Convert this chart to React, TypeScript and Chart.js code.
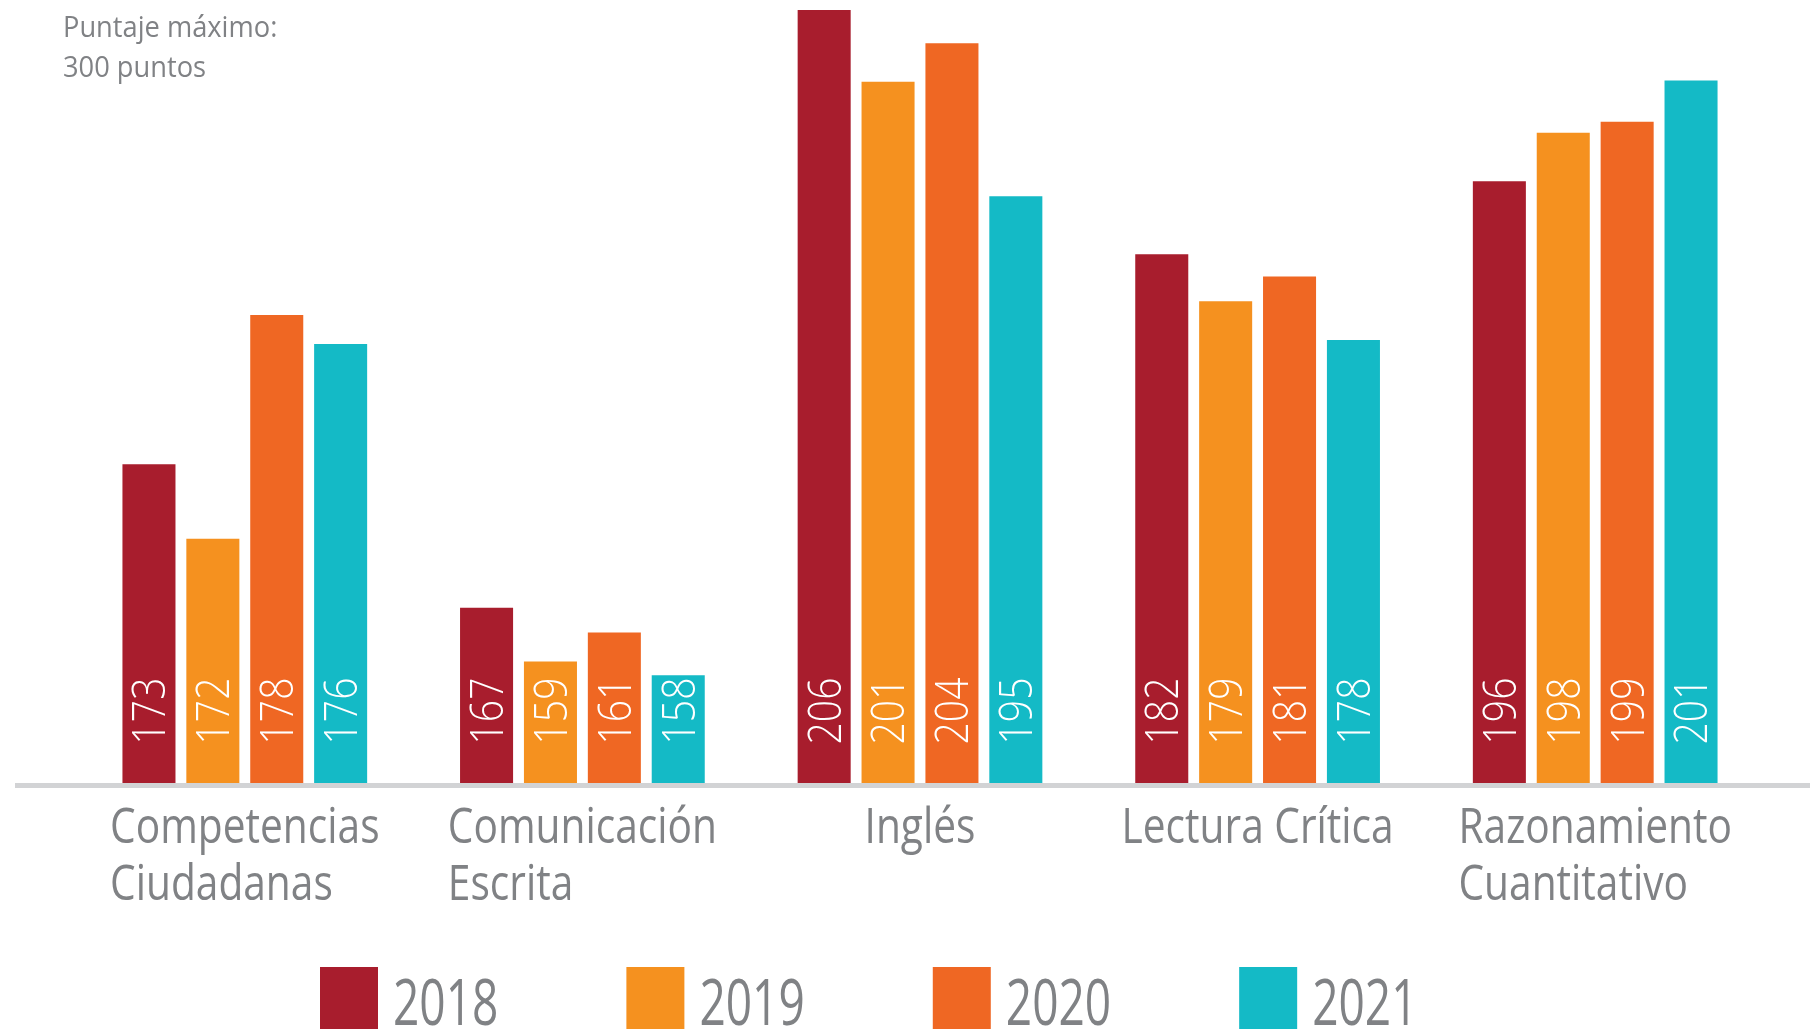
import React, { useEffect, useRef } from "react";
import { Chart, registerables } from "chart.js";

Chart.register(...registerables);

// ---- data ----
const categories: string[][] = [
  ["Competencias", "Ciudadanas"],
  ["Comunicación", "Escrita"],
  ["Inglés"],
  ["Lectura Crítica"],
  ["Razonamiento", "Cuantitativo"],
];
const years = ["2018", "2019", "2020", "2021"];

// printed scores (labels inside the bars)
const score2018 = [173, 167, 206, 182, 196];
const score2019 = [172, 159, 201, 179, 198];
const score2020 = [178, 161, 204, 181, 199];
const score2021 = [176, 158, 195, 178, 201];

// bar heights as drawn in the picture (the artwork is not drawn to scale)
const bar2018 = [173.1, 162.7, 206.0, 188.3, 193.6];
const bar2019 = [167.7, 158.8, 200.8, 184.9, 197.1];
const bar2020 = [183.9, 160.9, 203.6, 186.7, 197.9];
const bar2021 = [181.8, 157.8, 192.5, 182.1, 200.9];

const yearColors = ["#a81d2d", "#f5911f", "#ef6723", "#14bac6"];
const noteLines = ["Puntaje máximo:", "300 puntos"];
const yMin = 150;
const yMax = 206;

const FONT = '"Open Sans", "Noto Sans", sans-serif';
const GRAY = "#808285";

function drawScaledText(
  ctx: CanvasRenderingContext2D,
  text: string,
  x: number,
  y: number,
  size: number,
  sx: number,
  align: CanvasTextAlign,
  color: string,
  weight = 400
) {
  ctx.save();
  ctx.translate(x, y);
  ctx.scale(sx, 1);
  ctx.font = `${weight} ${size}px ${FONT}`;
  ctx.fillStyle = color;
  ctx.textAlign = align;
  ctx.textBaseline = "alphabetic";
  ctx.fillText(text, 0, 0);
  ctx.restore();
}

function measure(ctx: CanvasRenderingContext2D, text: string, size: number, sx: number, weight = 400) {
  ctx.save();
  ctx.font = `${weight} ${size}px ${FONT}`;
  const w = ctx.measureText(text).width * sx;
  ctx.restore();
  return w;
}

const scores = [score2018, score2019, score2020, score2021];

const decorPlugin = {
  id: "decor",
  afterDatasetsDraw(chart: any) {
    const ctx: CanvasRenderingContext2D = chart.ctx;
    const xs = chart.scales.x;
    const ys = chart.scales.y;
    const base = ys.getPixelForValue(yMin);

    // value labels inside bars (rotated)
    const valSize = 46;
    const valSx = 0.85;
    chart.data.datasets.forEach((ds: any, di: number) => {
      const meta = chart.getDatasetMeta(di);
      meta.data.forEach((bar: any, i: number) => {
        const txt = String(scores[di][i]);
        ctx.save();
        ctx.translate(bar.x, base - 72);
        ctx.rotate(-Math.PI / 2);
        ctx.scale(valSx, 1);
        ctx.font = `300 ${valSize}px ${FONT}`;
        ctx.fillStyle = "#ffffff";
        ctx.textAlign = "center";
        ctx.textBaseline = "alphabetic";
        ctx.fillText(txt, 0, valSize * 0.357);
        ctx.restore();
      });
    });

    // baseline
    ctx.save();
    ctx.fillStyle = "#d2d3d5";
    ctx.fillRect(15, base, chart.width - 15, 5);
    ctx.restore();

    // category labels (block centred under the group, lines left-aligned)
    const catSize = 49;
    const catSx = 0.83;
    (chart.data.labels as string[][]).forEach((lines, i) => {
      const cx = xs.getPixelForValue(i);
      const maxW = Math.max(...lines.map((l) => measure(ctx, l, catSize, catSx)));
      const left = cx - maxW / 2;
      lines.forEach((l, li) => {
        drawScaledText(ctx, l, left, base + 60 + li * 57, catSize, catSx, "left", GRAY);
      });
    });

    // legend
    const legSize = 64;
    const legSx = 0.72;
    let lx = 320;
    const boxTop = 967;
    chart.data.datasets.forEach((ds: any) => {
      ctx.save();
      ctx.fillStyle = ds.backgroundColor;
      ctx.fillRect(lx, boxTop, 58, chart.height - boxTop + 10);
      ctx.restore();
      const tx = lx + 58 + 15;
      drawScaledText(ctx, ds.label, tx, 1025, legSize, legSx, "left", GRAY);
      lx = tx + measure(ctx, ds.label, legSize, legSx) + 128;
    });

    // note
    noteLines.forEach((l, i) => {
      drawScaledText(ctx, l, 63, 37 + i * 40, 29, 0.94, "left", GRAY);
    });
  },
};

export default function App() {
  const ref = useRef<HTMLCanvasElement | null>(null);

  useEffect(() => {
    if (!ref.current) return;
    const bars = [bar2018, bar2019, bar2020, bar2021];
    const chart = new Chart(ref.current, {
      type: "bar",
      data: {
        labels: categories as any,
        datasets: years.map((y, i) => ({
          label: y,
          data: bars[i],
          backgroundColor: yearColors[i],
          borderWidth: 0,
          categoryPercentage: 0.757,
          barPercentage: 0.83,
        })),
      },
      options: {
        responsive: false,
        animation: false,
        devicePixelRatio: 1,
        layout: { padding: { left: 76, right: 46, top: 10, bottom: 246 } },
        scales: {
          x: { display: false },
          y: { display: false, min: yMin, max: yMax },
        },
        plugins: {
          legend: { display: false },
          tooltip: { enabled: false },
          title: { display: false },
        },
      },
      plugins: [decorPlugin],
    });
    return () => chart.destroy();
  }, []);

  return (
    <div
      style={{
        position: "fixed",
        left: 0,
        top: 0,
        width: 1810,
        height: 1029,
        overflow: "hidden",
        background: "#ffffff",
      }}
    >
      <canvas ref={ref} width={1810} height={1029} style={{ display: "block" }} />
    </div>
  );
}
